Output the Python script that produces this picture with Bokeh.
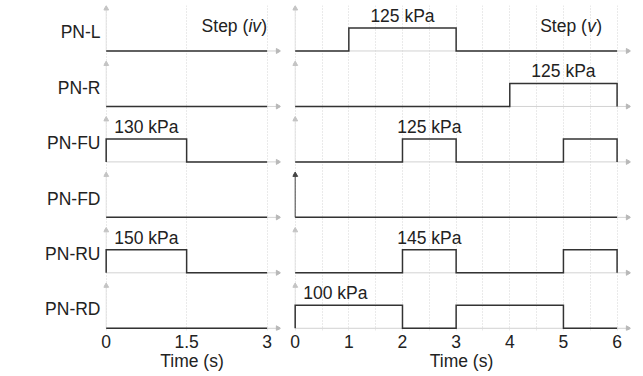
from bokeh.plotting import figure
from bokeh.layouts import row
from bokeh.models import FixedTicker, Range1d, Label
from bokeh.embed import file_html
from bokeh.resources import INLINE

# ---------------- data ----------------
ROWS = ["PN-L", "PN-R", "PN-FU", "PN-FD", "PN-RU", "PN-RD"]  # top to bottom

# Step (iv): change times (s) and pressure (kPa) of each segment
IV_TIMES = {"PN-L": [0, 3], "PN-R": [0, 3], "PN-FU": [0, 1.5, 3],
            "PN-FD": [0, 3], "PN-RU": [0, 1.5, 3], "PN-RD": [0, 3]}
IV_KPA = {"PN-L": [0], "PN-R": [0], "PN-FU": [130, 0],
          "PN-FD": [0], "PN-RU": [150, 0], "PN-RD": [0]}
IV_NOTES = [("PN-FU", 0.75, "130 kPa"), ("PN-RU", 0.75, "150 kPa")]
IV_TICKS = [0, 1.5, 3]
IV_GRID = [0, 1.5, 3]

# Step (v)
V_TIMES = {"PN-L": [0, 1, 3, 6], "PN-R": [0, 4, 6], "PN-FU": [0, 2, 3, 5, 6],
           "PN-FD": [0, 6], "PN-RU": [0, 2, 3, 5, 6], "PN-RD": [0, 2, 3, 5, 6]}
V_KPA = {"PN-L": [0, 125, 0], "PN-R": [0, 125], "PN-FU": [0, 125, 0, 125],
         "PN-FD": [0], "PN-RU": [0, 145, 0, 145], "PN-RD": [100, 0, 100, 0]}
V_NOTES = [("PN-L", 2, "125 kPa"), ("PN-R", 5, "125 kPa"), ("PN-FU", 2.5, "125 kPa"),
           ("PN-RU", 2.5, "145 kPa"), ("PN-RD", 0.75, "100 kPa")]
V_TICKS = [0, 1, 2, 3, 4, 5, 6]
V_GRID = [0, 0.5, 1, 1.5, 2, 2.5, 3, 3.5, 4, 4.5, 5, 5.5, 6]

# ---------------- styling ----------------
FONT = "Liberation Sans"
FS = "17.5px"
LABEL_OFF = 0.34    # row label height above baseline
HIGH = 0.415        # drawn height of a pressurised segment
ARROW = 0.765
SIG = "#333333"
AX = "#d2d2d2"


def base(name):
    return (len(ROWS) - 1 - ROWS.index(name)) - LABEL_OFF


def panel(times, kpa, notes, xend, ticks, grid, width, bl, br, show_y,
          step_txt, step_x, dark_axis=()):
    p = figure(width=width, height=375, output_backend="svg", toolbar_location=None,
               x_range=Range1d(-0.05, xend), y_range=Range1d(-0.38, 5.48),
               min_border_left=bl, min_border_right=br, min_border_top=5,
               min_border_bottom=45)
    p.outline_line_color = None
    p.ygrid.visible = False
    p.xgrid.ticker = FixedTicker(ticks=grid)
    p.xgrid.grid_line_color = "#d4d4d4"
    p.xgrid.grid_line_dash = "1 2"
    p.xgrid.grid_line_width = 1

    xa = p.xaxis[0]
    xa.ticker = FixedTicker(ticks=ticks)
    xa.major_label_overrides = {t: f"{t:g}" for t in ticks}
    xa.axis_line_color = None
    xa.major_tick_line_color = None
    xa.minor_tick_line_color = None
    xa.major_tick_out = 0
    xa.major_label_standoff = 4
    xa.axis_label = "Time (s)"
    xa.axis_label_standoff = 0
    xa.axis_label_text_font = FONT
    xa.axis_label_text_font_style = "normal"
    xa.axis_label_text_font_size = FS
    xa.axis_label_text_color = "#222222"
    xa.major_label_text_font = FONT
    xa.major_label_text_font_size = FS
    xa.major_label_text_color = "#222222"

    ya = p.yaxis[0]
    if show_y:
        ya.ticker = FixedTicker(ticks=list(range(len(ROWS))))
        ya.major_label_overrides = {len(ROWS) - 1 - i: n for i, n in enumerate(ROWS)}
        ya.axis_line_color = None
        ya.major_tick_line_color = None
        ya.minor_tick_line_color = None
        ya.major_tick_out = 0
        ya.major_label_standoff = 3
        ya.major_label_text_font = FONT
        ya.major_label_text_font_size = FS
        ya.major_label_text_color = "#222222"
    else:
        ya.visible = False

    axis_end = xend - 0.05
    for name in ROWS:
        b = base(name)
        # per-row axes with arrow heads
        p.line([0, axis_end], [b, b], line_color=AX, line_width=1)
        p.scatter([axis_end], [b], marker="triangle", angle=-1.5708, size=5,
                  color="#b8b8b8")
        yc = "#444444" if name in dark_axis else "#e2e2e2"
        p.line([0, 0], [b, b + ARROW], line_color=yc, line_width=1)
        p.scatter([0], [b + ARROW], marker="triangle", size=5,
                  color="#444444" if name in dark_axis else "#c4c4c4")
        # signal
        t = times[name]
        xs, ys = [t[0]], [b]
        for i, v in enumerate(kpa[name]):
            lvl = b + (HIGH if v > 0 else 0)
            xs += [t[i], t[i + 1]]
            ys += [lvl, lvl]
        xs.append(t[-1])
        ys.append(b)
        p.line(xs, ys, line_color=SIG, line_width=1.5, line_join="miter")

    for name, x, txt in notes:
        p.add_layout(Label(x=x, y=base(name) + 0.63, text=txt, text_align="center",
                           text_baseline="middle", text_font=FONT,
                           text_font_size=FS, text_color="#222222"))

    # "Step (iv)" with italic numeral
    pre, ital, post = step_txt
    yb = base(ROWS[0]) + 0.45
    w_post = 6.0
    w_ital = {"iv": 12.8, "v": 9.2}[ital]
    for txt, off, style in [(post, 0, "normal"), (ital, -w_post, "italic"),
                            (pre, -w_post - w_ital, "normal")]:
        p.add_layout(Label(x=step_x, y=yb, x_offset=off, text=txt, text_align="right",
                           text_baseline="middle", text_font=FONT,
                           text_font_style=style, text_font_size=FS,
                           text_color="#222222"))
    return p


p1 = panel(IV_TIMES, IV_KPA, IV_NOTES, 3.25, IV_TICKS, IV_GRID,
           286, 103, 6, True, ("Step (", "iv", ")"), 3.0)
p2 = panel(V_TIMES, V_KPA, V_NOTES, 6.25, V_TICKS, V_GRID,
           349, 6, 5, False, ("Step (", "v", ")"), 5.72, dark_axis=("PN-FD",))

layout = row(p1, p2)
open("out.html", "w").write(file_html(layout, INLINE))
